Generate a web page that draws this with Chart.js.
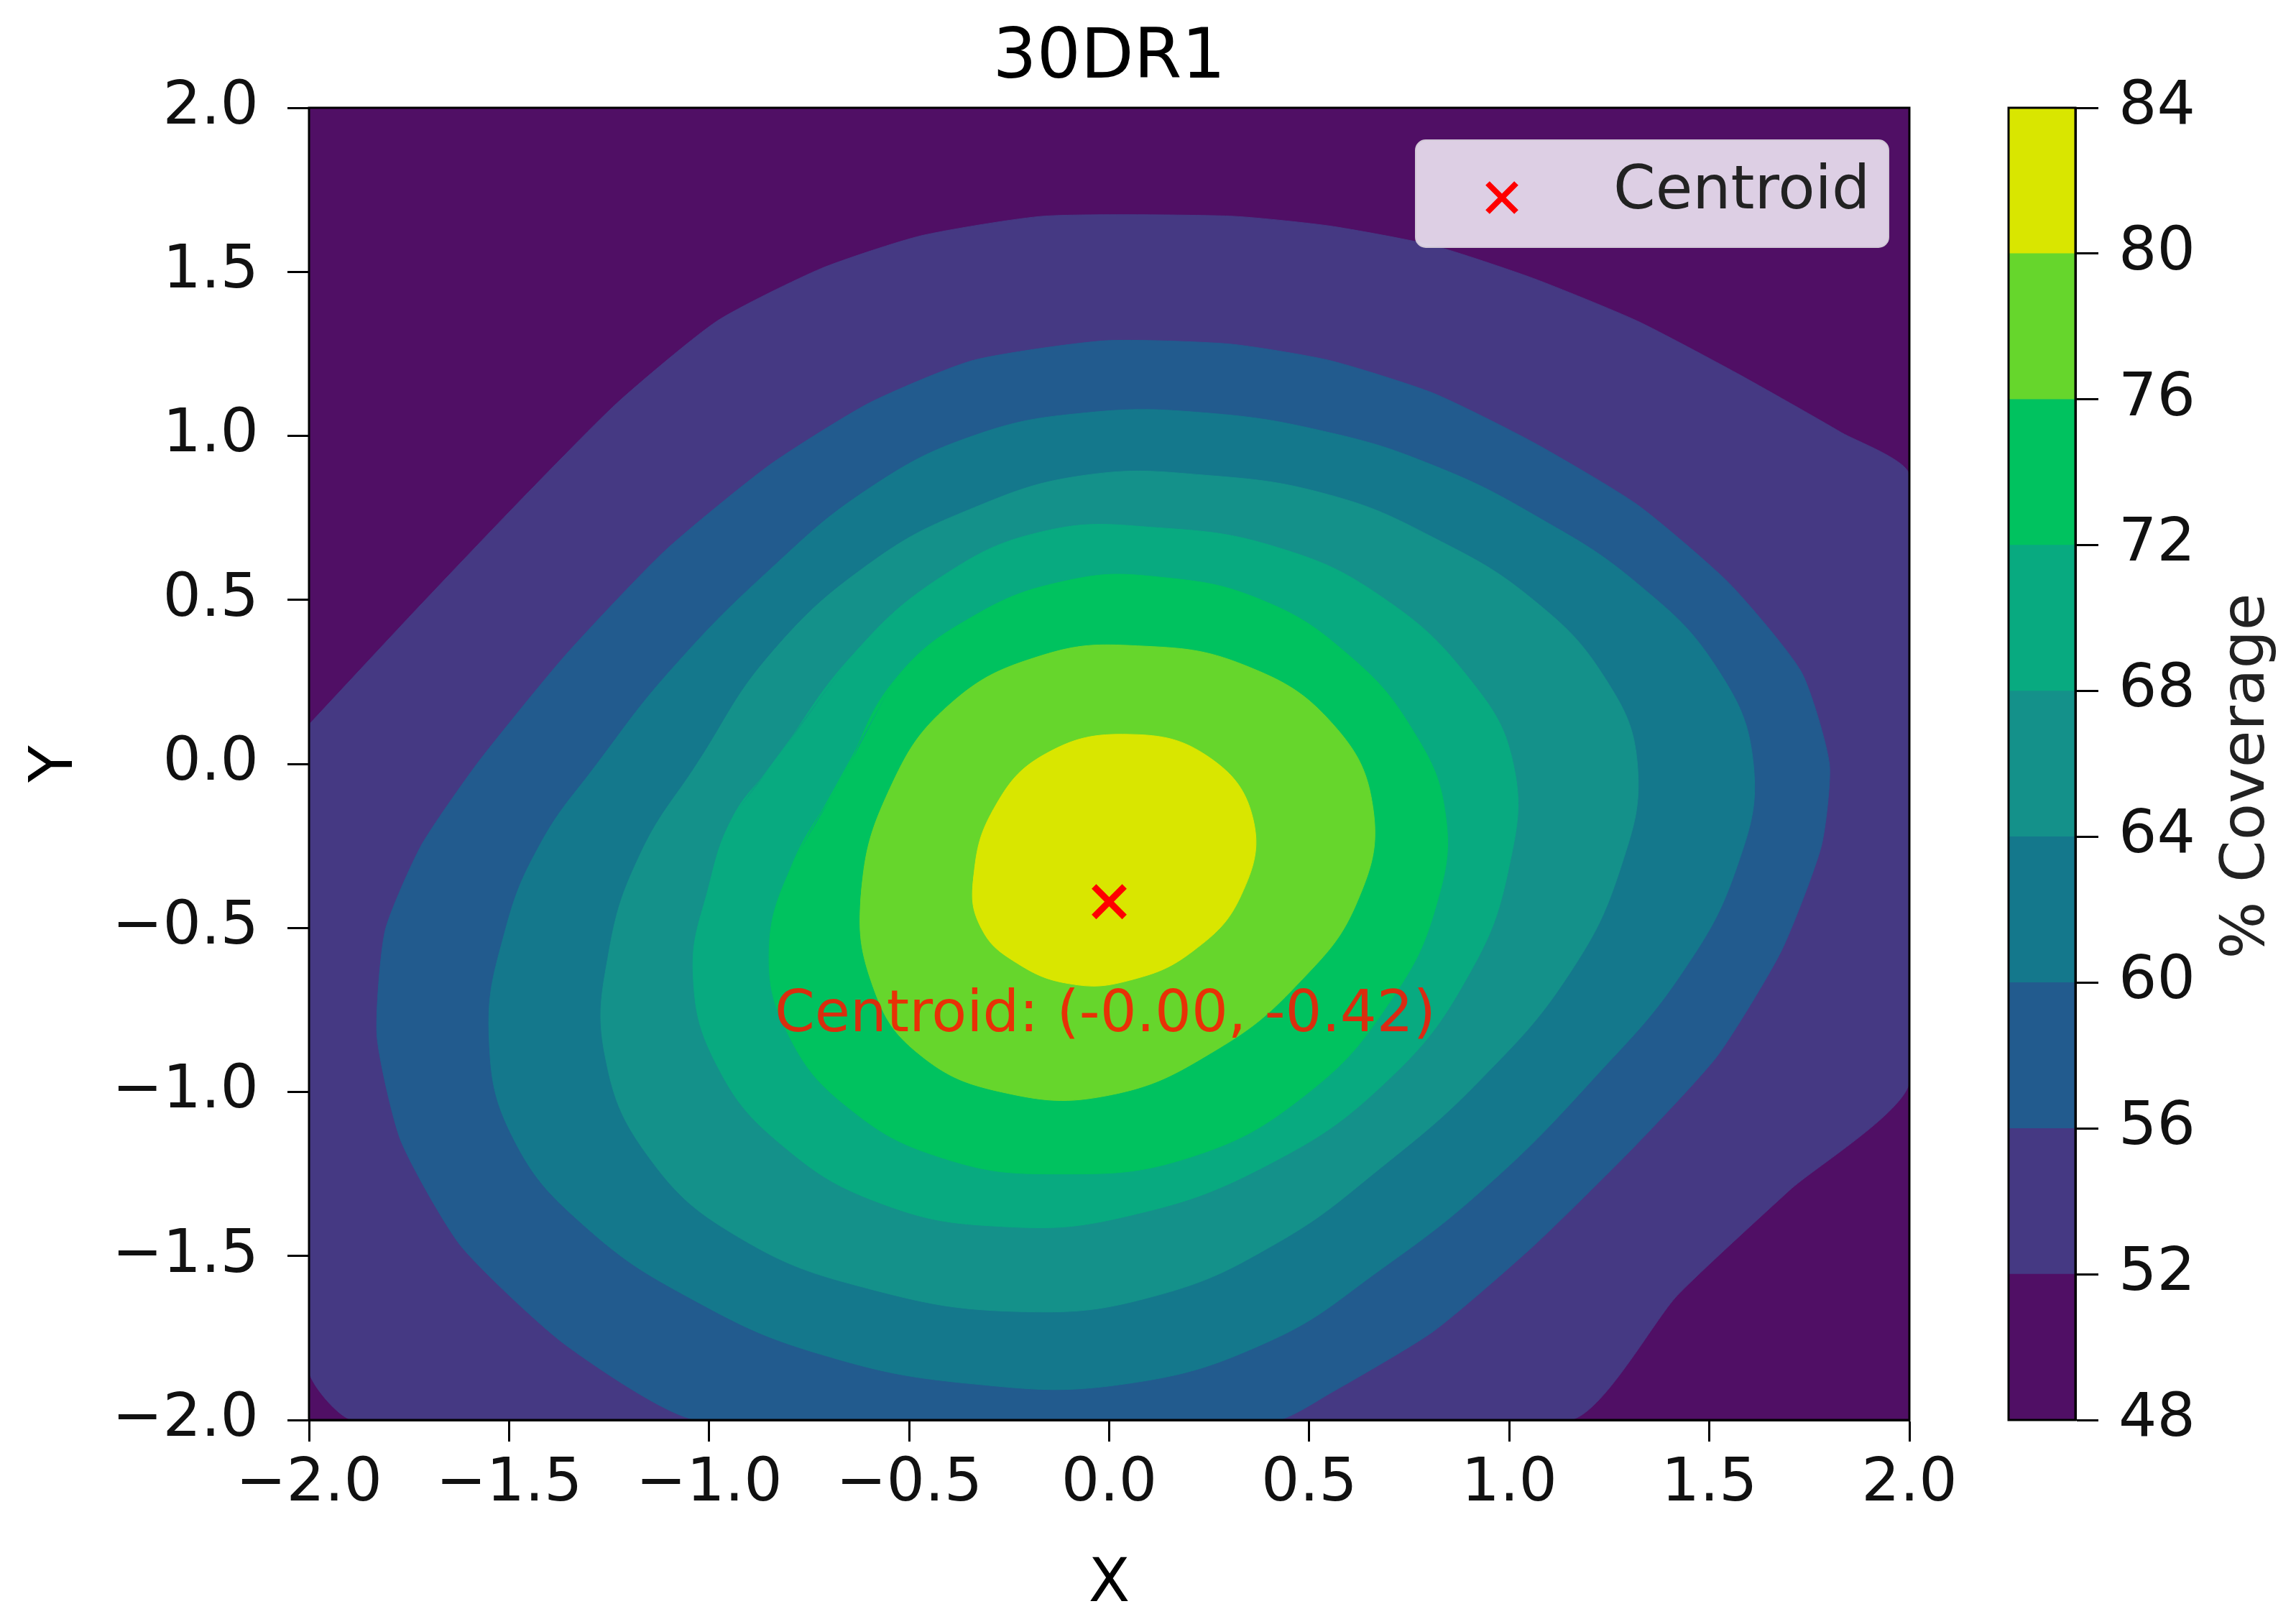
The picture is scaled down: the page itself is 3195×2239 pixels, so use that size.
<!DOCTYPE html>
<html><head><meta charset="utf-8">
<script src="https://cdn.jsdelivr.net/npm/chart.js@4"></script>
<style>
html,body{margin:0;padding:0;background:#fff;}
#wrap{position:relative;width:3195px;height:2239px;}
canvas{position:absolute;top:0;}
</style></head><body>
<div id="wrap"><canvas id="main"></canvas><canvas id="cbar"></canvas></div>
<script>
// ---------- data ----------
const title = "30DR1";
const xTicks = [-2.0,-1.5,-1.0,-0.5,0.0,0.5,1.0,1.5,2.0];
const yTicks = [-2.0,-1.5,-1.0,-0.5,0.0,0.5,1.0,1.5,2.0];
const levels = [48,52,56,60,64,68,72,76,80,84];
const bandColors = ['#500f65','#453983','#225b8e','#14788c','#14918a','#08aa80','#00c25f','#66d62c','#d9e600'];
// contour boundaries (region with value >= level)
const c52 = [[-2,0.12],[-1.74,0.46],[-1.49,0.78],[-1.23,1.10],[-0.98,1.35],[-0.72,1.51],[-0.47,1.61],[-0.16,1.67],[0.30,1.67],[0.55,1.64],[0.81,1.58],[1.06,1.48],[1.32,1.35],[1.57,1.19],[1.83,1.01],[2,0.88],[2,-0.97],[1.70,-1.30],[1.42,-1.62],[1.15,-2],[-1.89,-2],[-2,-1.85]];
const c56 = [[-1.58,0],[-1.36,0.33],[-1.11,0.65],[-0.85,0.91],[-0.60,1.10],[-0.34,1.23],[-0.01,1.29],[0.30,1.28],[0.55,1.23],[0.81,1.13],[1.06,0.98],[1.32,0.79],[1.55,0.55],[1.73,0.28],[1.80,0],[1.78,-0.25],[1.68,-0.57],[1.52,-0.89],[1.31,-1.17],[1.06,-1.47],[0.81,-1.73],[0.55,-1.92],[0.42,-2],[-1.03,-2],[-1.36,-1.77],[-1.62,-1.47],[-1.77,-1.15],[-1.83,-0.83],[-1.81,-0.51],[-1.72,-0.25]];
const c60 = [[-1.28,0],[-1.10,0.28],[-0.85,0.59],[-0.60,0.84],[-0.34,1.0],[-0.06,1.07],[0.24,1.07],[0.55,1.01],[0.81,0.91],[1.06,0.76],[1.32,0.55],[1.52,0.29],[1.61,0],[1.57,-0.31],[1.43,-0.64],[1.21,-0.96],[0.95,-1.28],[0.68,-1.54],[0.40,-1.76],[0.04,-1.89],[-0.34,-1.89],[-0.72,-1.80],[-1.03,-1.64],[-1.31,-1.41],[-1.49,-1.14],[-1.55,-0.83],[-1.51,-0.51],[-1.42,-0.24]];
const c64 = [[-1.03,0],[-0.85,0.33],[-0.60,0.61],[-0.34,0.78],[-0.06,0.88],[0.24,0.88],[0.55,0.82],[0.81,0.69],[1.06,0.50],[1.24,0.26],[1.32,0],[1.28,-0.31],[1.15,-0.64],[0.93,-0.96],[0.68,-1.23],[0.42,-1.46],[0.12,-1.62],[-0.21,-1.67],[-0.60,-1.60],[-0.93,-1.44],[-1.15,-1.20],[-1.26,-0.89],[-1.25,-0.57],[-1.17,-0.27]];
const c68 = [[-0.84,0],[-0.65,0.32],[-0.42,0.57],[-0.16,0.71],[0.12,0.72],[0.42,0.66],[0.68,0.51],[0.90,0.26],[1.01,0],[1.00,-0.31],[0.90,-0.64],[0.70,-0.96],[0.40,-1.22],[0.04,-1.38],[-0.27,-1.41],[-0.57,-1.34],[-0.82,-1.16],[-0.98,-0.92],[-1.04,-0.64],[-1.0,-0.37],[-0.94,-0.16]];
const c72 = [[-0.67,-0.05],[-0.54,0.25],[-0.34,0.45],[-0.10,0.56],[0.12,0.57],[0.38,0.50],[0.60,0.33],[0.76,0.10],[0.84,-0.15],[0.82,-0.42],[0.71,-0.71],[0.50,-1.00],[0.20,-1.20],[-0.14,-1.25],[-0.42,-1.20],[-0.65,-1.05],[-0.80,-0.83],[-0.85,-0.57],[-0.79,-0.30]];
const c76 = [[-0.62,-0.40],[-0.55,-0.08],[-0.40,0.18],[-0.17,0.33],[0.07,0.36],[0.34,0.30],[0.56,0.12],[0.66,-0.14],[0.62,-0.42],[0.48,-0.66],[0.27,-0.87],[0.0,-1.01],[-0.27,-1.00],[-0.48,-0.88],[-0.59,-0.68]];
const c80 = [[-0.34,-0.36],[-0.29,-0.14],[-0.16,0.03],[0.05,0.09],[0.25,0.02],[0.36,-0.17],[0.33,-0.40],[0.21,-0.57],[0.05,-0.66],[-0.10,-0.67],[-0.24,-0.60],[-0.32,-0.50]];
const contours = [c52,c56,c60,c64,c68,c72,c76,c80];
const centroid = {x: -0.00, y: -0.42};
const centroidLabel = "Centroid: (-0.00, -0.42)";
const labelPos = {x: -0.01, y: -0.77};

// ---------- layout ----------
const W = 3195, H = 2239;
const FONT = "'DejaVu Sans', sans-serif";
const fmt = v => (v < 0 ? '\u2212' : '') + Math.abs(v).toFixed(1);

const mainC = document.getElementById('main');
mainC.width = W; mainC.height = H; mainC.style.width = W+'px'; mainC.style.height = H+'px';

// wrap each closed contour so the spline is smooth across its start point
const wrapLoop = pts => [pts[pts.length - 1], ...pts, pts[0], pts[1]];

const datasets = contours.map((pts, i) => ({
  type: 'line',
  data: (i < 1 ? pts.concat([pts[0]]) : wrapLoop(pts)).map(p => ({x: p[0], y: p[1]})),
  backgroundColor: bandColors[i+1],
  borderColor: bandColors[i+1],
  borderWidth: 1,
  fill: 'shape',
  pointRadius: 0,
  tension: i < 2 ? 0.2 : 0.42,
  order: 20 - i
}));
datasets.push({
  type: 'scatter',
  label: 'Centroid',
  data: [centroid],
  pointStyle: 'crossRot',
  pointRadius: 30,
  borderColor: '#ff0000',
  borderWidth: 9,
  order: 0
});

const bgPlugin = {
  id: 'bg',
  beforeDatasetsDraw(chart) {
    const {ctx, chartArea: a} = chart;
    ctx.save(); ctx.fillStyle = bandColors[0];
    ctx.fillRect(a.left, a.top, a.right - a.left, a.bottom - a.top); ctx.restore();
  },
  afterDraw(chart) {
    const {ctx, chartArea: a, scales} = chart;
    ctx.save();
    ctx.strokeStyle = '#000'; ctx.lineWidth = 3;
    ctx.strokeRect(a.left, a.top, a.right - a.left, a.bottom - a.top);
    ctx.fillStyle = '#000'; ctx.font = `96px ${FONT}`; ctx.textAlign = 'center'; ctx.textBaseline = 'alphabetic';
    ctx.fillText(title, (a.left + a.right) / 2, 108);
    ctx.font = `84px ${FONT}`;
    ctx.fillText('X', (a.left + a.right) / 2, 2228);
    ctx.save(); ctx.translate(100, (a.top + a.bottom) / 2); ctx.rotate(-Math.PI / 2);
    ctx.fillText('Y', 0, 0); ctx.restore();
    ctx.fillStyle = 'rgba(255,20,0,0.85)'; ctx.font = `80px ${FONT}`; ctx.textBaseline = 'middle';
    ctx.fillText(centroidLabel, scales.x.getPixelForValue(labelPos.x), scales.y.getPixelForValue(labelPos.y));
    const lx = 1970, ly = 195, lw = 658, lh = 149, r = 14;
    ctx.beginPath(); ctx.roundRect(lx, ly, lw, lh, r);
    ctx.fillStyle = 'rgba(232,222,238,0.93)'; ctx.fill();
    ctx.strokeStyle = 'rgba(210,200,215,1)'; ctx.lineWidth = 2; ctx.stroke();
    ctx.strokeStyle = '#ff0000'; ctx.lineWidth = 8;
    const mx = 2090, my = 275, s = 20;
    ctx.beginPath(); ctx.moveTo(mx - s, my - s); ctx.lineTo(mx + s, my + s);
    ctx.moveTo(mx + s, my - s); ctx.lineTo(mx - s, my + s); ctx.stroke();
    ctx.fillStyle = '#222'; ctx.font = `84px ${FONT}`; ctx.textAlign = 'left'; ctx.textBaseline = 'middle';
    ctx.fillText('Centroid', 2245, 268);
    ctx.restore();
  }
};

const axisCommon = (ticksArr) => ({
  type: 'linear', min: -2, max: 2,
  afterBuildTicks: s => { s.ticks = ticksArr.map(v => ({value: v})); },
  grid: {drawOnChartArea: false, drawTicks: true, tickLength: 30, tickWidth: 3, color: '#000'},
  border: {display: true, color: '#000', width: 3},
  ticks: {color: '#111', font: {family: FONT, size: 84}, callback: v => fmt(v), autoSkip: false, maxRotation: 0}
});

const xAxis = axisCommon(xTicks);
xAxis.ticks.padding = 10;
xAxis.afterFit = s => { s.height = H - 1976; };
const yAxis = axisCommon(yTicks);
yAxis.ticks.padding = 40;
yAxis.afterFit = s => { s.width = 430; };

new Chart(mainC, {
  type: 'scatter',
  data: {datasets},
  options: {
    responsive: false, animation: false, devicePixelRatio: 1,
    layout: {padding: {left: 0, top: 150, right: W - 2657, bottom: 0}},
    plugins: {legend: {display: false}, tooltip: {enabled: false}, title: {display: false}},
    scales: {x: xAxis, y: yAxis}
  },
  plugins: [bgPlugin]
});

// ---------- colorbar ----------
const cbC = document.getElementById('cbar');
const CBL = 2700;
cbC.width = W - CBL; cbC.height = H; cbC.style.left = CBL + 'px';
cbC.style.width = (W - CBL) + 'px'; cbC.style.height = H + 'px';
const cbDatasets = bandColors.map((c, i) => ({
  data: [[levels[i], levels[i+1]]],
  backgroundColor: c, borderWidth: 0,
  barPercentage: 1, categoryPercentage: 1, grouped: false
}));
const cbPlugin = {
  id: 'cbframe',
  afterDraw(chart) {
    const {ctx, chartArea: a} = chart;
    ctx.save(); ctx.strokeStyle = '#000'; ctx.lineWidth = 3;
    ctx.strokeRect(a.left, a.top, a.right - a.left, a.bottom - a.top);
    ctx.fillStyle = '#222'; ctx.font = `84px ${FONT}`; ctx.textAlign = 'center'; ctx.textBaseline = 'middle';
    ctx.translate(3128 - CBL, 1080); ctx.rotate(-Math.PI / 2);
    ctx.fillText('% Coverage', 0, 0);
    ctx.restore();
  }
};
new Chart(cbC, {
  type: 'bar',
  data: {labels: [''], datasets: cbDatasets},
  options: {
    responsive: false, animation: false, devicePixelRatio: 1,
    layout: {padding: {left: 2795 - CBL, top: 150, right: 0, bottom: H - 1976}},
    plugins: {legend: {display: false}, tooltip: {enabled: false}},
    scales: {
      x: {display: false},
      y: {
        position: 'right', min: 48, max: 84,
        afterBuildTicks: s => { s.ticks = levels.map(v => ({value: v})); },
        afterFit: s => { s.width = W - 2888; },
        grid: {drawOnChartArea: false, tickLength: 32, tickWidth: 3, color: '#000'},
        border: {display: true, color: '#000', width: 3},
        ticks: {color: '#111', font: {family: FONT, size: 84}, padding: 28, autoSkip: false}
      }
    }
  },
  plugins: [cbPlugin]
});
</script>
</body></html>
